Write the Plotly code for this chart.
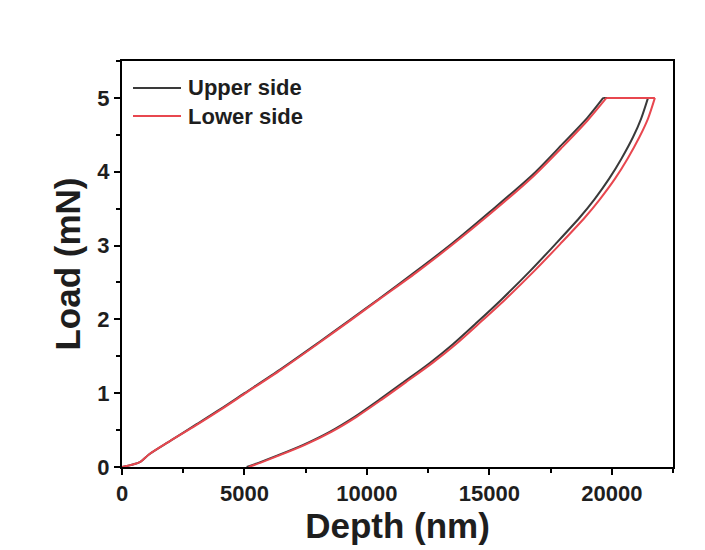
import plotly.graph_objects as go

# Upper side: loading -> hold -> unloading (depth in nm, load in mN)
upper_depth = [0, 400, 750, 1100, 2000, 3000, 4000, 5000, 6500, 8000, 9300, 10500, 12000,
               13450, 15000, 16800, 18000, 19000, 19650,
               21480, 21200, 20870, 20400, 19900, 19300, 18690, 17700, 16650, 15500, 14500,
               13500, 12570, 11500, 10500, 9500, 8500, 7400, 6300, 5600, 5090]
upper_load = [0, 0.03, 0.07, 0.17, 0.36, 0.57, 0.78, 1.0, 1.33, 1.68, 1.99, 2.28, 2.65,
              3.02, 3.45, 3.97, 4.38, 4.73, 5.0,
              5.0, 4.72, 4.47, 4.18, 3.91, 3.63, 3.38, 3.02, 2.65, 2.27, 1.96,
              1.66, 1.41, 1.15, 0.91, 0.68, 0.48, 0.30, 0.15, 0.06, 0.0]

# Lower side
lower_depth = [0, 400, 750, 1100, 2000, 3000, 4000, 5000, 6500, 8000, 9300, 10500, 12000,
               13450, 15000, 16800, 18000, 19000, 19780,
               21760, 21480, 21130, 20650, 20140, 19520, 18900, 17890, 16820, 15650, 14630,
               13620, 12680, 11600, 10590, 9580, 8570, 7470, 6370, 5670, 5170]
lower_load = [0, 0.03, 0.07, 0.17, 0.36, 0.56, 0.77, 0.99, 1.32, 1.67, 1.98, 2.27, 2.63,
              3.0, 3.42, 3.94, 4.34, 4.69, 5.0,
              5.0, 4.72, 4.47, 4.18, 3.91, 3.63, 3.38, 3.02, 2.65, 2.27, 1.96,
              1.66, 1.41, 1.15, 0.91, 0.68, 0.48, 0.30, 0.15, 0.06, 0.0]

series_names = ["Upper side", "Lower side"]
series_colors = ["#3a3a3a", "#e8474f"]

x_ticks = [0, 5000, 10000, 15000, 20000]
y_ticks = [0, 1, 2, 3, 4, 5]

HOLD_START = 18  # index of the end of loading (start of the hold segment)

FONT = "Liberation Sans"
TXT = "#1e1e1e"

fig = go.Figure()
for name, color, xs, ys in zip(series_names, series_colors,
                               [upper_depth, lower_depth], [upper_load, lower_load]):
    segments = [
        (xs[:HOLD_START + 1], ys[:HOLD_START + 1], "spline"),          # loading
        (xs[HOLD_START:HOLD_START + 2], ys[HOLD_START:HOLD_START + 2], "linear"),  # hold
        (xs[HOLD_START + 1:], ys[HOLD_START + 1:], "spline"),          # unloading
    ]
    for sx, sy, shape in segments:
        fig.add_trace(go.Scatter(x=sx, y=sy, mode="lines", name=name, legendgroup=name,
                                 showlegend=False,
                                 line=dict(color=color, width=2, shape=shape, smoothing=0.8)))

axis_common = dict(showline=True, linecolor="black", linewidth=2, mirror=True,
                   ticks="outside", tickcolor="black", tickwidth=2, ticklen=6,
                   showgrid=False, zeroline=False,
                   tickfont=dict(family=FONT, size=22, color=TXT, weight="bold"))

fig.update_xaxes(range=[0, 22500], tickvals=x_ticks, ticktext=[str(v) for v in x_ticks],
                 minor=dict(ticks="outside", dtick=2500, ticklen=4, tickwidth=2, tickcolor="black"),
                 title=dict(text="Depth (nm)", font=dict(family=FONT, size=35, color=TXT, weight="bold"),
                            standoff=6),
                 **axis_common)
fig.update_yaxes(range=[0, 5.5], tickvals=y_ticks, ticktext=[str(v) for v in y_ticks],
                 minor=dict(ticks="outside", dtick=0.5, ticklen=4, tickwidth=2, tickcolor="black"),
                 title=dict(text="Load (mN)", font=dict(family=FONT, size=35, color=TXT, weight="bold"),
                            standoff=6),
                 **axis_common)

# Legend drawn manually (longer line samples as in the original)
PX_L, PX_W, PX_B, PX_H = 122, 551, 467, 406
def px(xp):
    return (xp - PX_L) / PX_W
def py(yp):
    return (PX_B - yp) / PX_H

legend_rows = [88, 116]
for name, color, yrow in zip(series_names, series_colors, legend_rows):
    fig.add_shape(type="line", xref="paper", yref="paper",
                  x0=px(133), x1=px(181), y0=py(yrow), y1=py(yrow),
                  line=dict(color=color, width=2))
    fig.add_annotation(xref="paper", yref="paper", x=px(186), y=py(yrow),
                       xanchor="left", yanchor="middle", showarrow=False, text=name,
                       font=dict(family=FONT, size=22, color=TXT, weight="bold"))

fig.update_layout(width=705, height=550,
                  margin=dict(l=122, r=32, t=61, b=83),
                  paper_bgcolor="white", plot_bgcolor="white",
                  showlegend=False)

fig.write_html("out.html")
